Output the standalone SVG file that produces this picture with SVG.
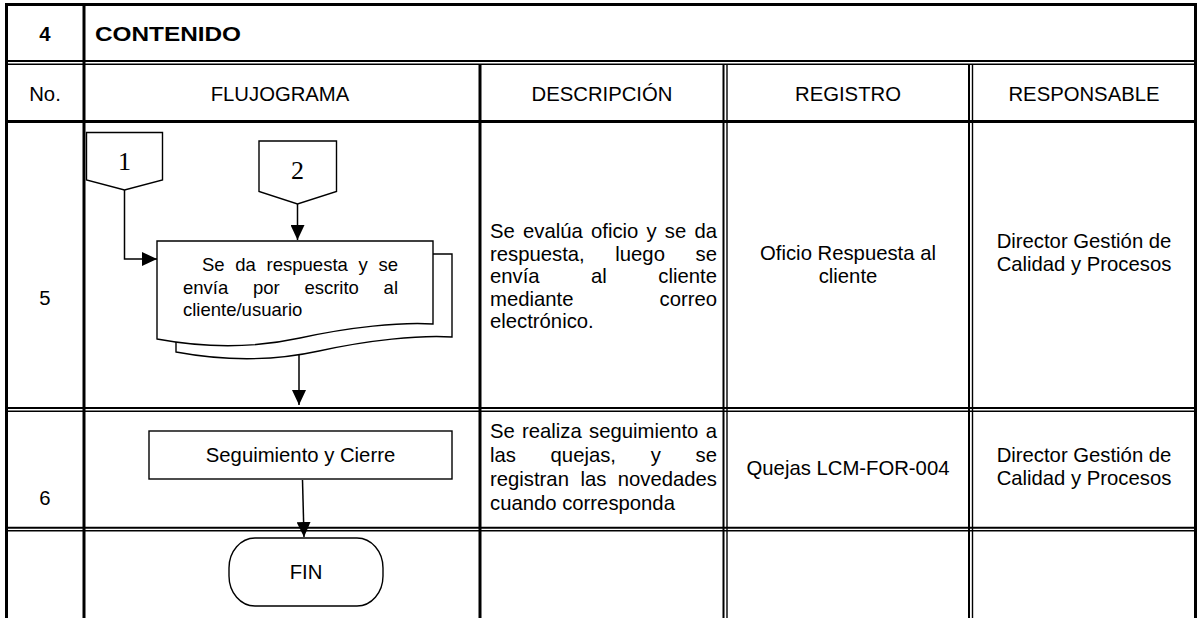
<svg xmlns="http://www.w3.org/2000/svg" width="1198" height="618" viewBox="0 0 1198 618">
<defs>
<style>
.t{font-family:"Liberation Sans",Arial,sans-serif;font-size:20.3px;fill:#000}
.d{font-family:"Liberation Sans",Arial,sans-serif;font-size:18.5px;fill:#000}
.b{font-weight:bold}
.c{text-anchor:middle}
.e{text-anchor:end}
.n{font-family:"Liberation Serif","Times New Roman",serif;font-size:26px;fill:#000;text-anchor:middle}
.g3{stroke:#000;stroke-width:3;fill:none}
.g2{stroke:#000;stroke-width:2;fill:none}
.g1{stroke:#000;stroke-width:1.4;fill:none}
.sh{fill:#fff;stroke:#000;stroke-width:1.4}
.ln{stroke:#000;stroke-width:1.5;fill:none}
</style>
<marker id="ah" viewBox="0 0 15 14" refX="15" refY="7" markerWidth="15" markerHeight="14" markerUnits="userSpaceOnUse" orient="auto">
<path d="M0,0 L15,7 L0,14 z" fill="#000"/>
</marker>
</defs>
<rect width="1198" height="618" fill="#fff"/>
<g id="table">
<line class="g3" x1="5" y1="4.5" x2="1197" y2="4.5"/>
<line class="g3" x1="6.5" y1="3" x2="6.5" y2="618"/>
<line class="g3" x1="1195.5" y1="3" x2="1195.5" y2="618"/>
<line class="g3" x1="84" y1="3" x2="84" y2="618"/>
<line class="g2" x1="6.5" y1="61" x2="1195.5" y2="61"/>
<line class="g1" x1="6.5" y1="64.3" x2="1195.5" y2="64.3"/>
<line class="g3" x1="6.5" y1="121.5" x2="1195.5" y2="121.5"/>
<line class="g3" x1="480" y1="64" x2="480" y2="618"/>
<line class="g2" x1="723.5" y1="64" x2="723.5" y2="618"/>
<line class="g1" x1="727" y1="64" x2="727" y2="618"/>
<line class="g2" x1="969" y1="64" x2="969" y2="618"/>
<line class="g1" x1="972.5" y1="64" x2="972.5" y2="618"/>
<line class="g2" x1="6.5" y1="408" x2="1195.5" y2="408"/>
<line class="g1" x1="6.5" y1="411.3" x2="1195.5" y2="411.3"/>
<line class="g2" x1="6.5" y1="527.7" x2="1195.5" y2="527.7"/>
<line class="g1" x1="6.5" y1="530.7" x2="1195.5" y2="530.7"/>
</g>
<g id="headers">
<text class="t b c" x="45" y="41">4</text>
<text class="t b" x="95" y="41" textLength="146" lengthAdjust="spacingAndGlyphs">CONTENIDO</text>
<text class="t c" x="45" y="101">No.</text>
<text class="t c" x="280" y="101">FLUJOGRAMA</text>
<text class="t c" x="602" y="101">DESCRIPCIÓN</text>
<text class="t c" x="848" y="101">REGISTRO</text>
<text class="t c" x="1084" y="101">RESPONSABLE</text>
</g>
<g id="row5">
<text class="t c" x="45" y="305">5</text>
<text class="t" y="238"><tspan x="490">Se</tspan><tspan x="523">evalúa</tspan><tspan x="591">oficio</tspan><tspan x="646.5">y</tspan><tspan x="664.8">se</tspan></text>
<text class="t e" x="717" y="238">da</text>
<text class="t" y="260.5"><tspan x="490">respuesta,</tspan><tspan x="615.3">luego</tspan></text>
<text class="t e" x="717" y="260.5">se</text>
<text class="t" y="283"><tspan x="490">envía</tspan><tspan x="591.1">al</tspan></text>
<text class="t e" x="717" y="283">cliente</text>
<text class="t" x="490" y="305.5">mediante</text>
<text class="t e" x="717" y="305.5">correo</text>
<text class="t" x="490" y="328">electrónico.</text>
<text class="t c" x="848" y="260">Oficio Respuesta al</text>
<text class="t c" x="848" y="283">cliente</text>
<text class="t c" x="1084" y="248">Director Gestión de</text>
<text class="t c" x="1084" y="271">Calidad y Procesos</text>
</g>
<g id="row6">
<text class="t c" x="45" y="505">6</text>
<text class="t" y="438"><tspan x="490">Se</tspan><tspan x="522">realiza</tspan><tspan x="589">seguimiento</tspan></text>
<text class="t e" x="717" y="438">a</text>
<text class="t" y="462"><tspan x="490">las</tspan><tspan x="550.6">quejas,</tspan><tspan x="650.7">y</tspan></text>
<text class="t e" x="717" y="462">se</text>
<text class="t" y="486"><tspan x="490">registran</tspan><tspan x="580.4">las</tspan></text>
<text class="t e" x="717" y="486">novedades</text>
<text class="t" x="490" y="510">cuando corresponda</text>
<text class="t c" x="848" y="475">Quejas LCM-FOR-004</text>
<text class="t c" x="1084" y="462">Director Gestión de</text>
<text class="t c" x="1084" y="485">Calidad y Procesos</text>
</g>
<g id="connector1">
<path class="sh" d="M86.5,132.5 H162.5 V180 L124.5,190 L86.5,180 Z"/>
<text class="n" x="124.5" y="170">1</text>
</g>
<g id="connector2">
<path class="sh" d="M259,141 H336.5 V191.5 L297.5,204 L259,191.5 Z"/>
<text class="n" x="297.5" y="179">2</text>
</g>
<g id="doc">
<path class="sh" d="M176,254 H452 V337 C419,335 369,340 319,351 C269,362 219,360 176,352 Z"/>
<path class="sh" d="M157,241 H433 V324 C400,322 350,327 300,338 C250,349 200,347 157,339 Z"/>
<text class="d" y="271"><tspan x="202">Se</tspan><tspan x="235.3">da</tspan><tspan x="266.6">respuesta</tspan><tspan x="358.5">y</tspan></text>
<text class="d e" x="398" y="271">se</text>
<text class="d" y="294"><tspan x="183">envía</tspan><tspan x="253">por</tspan><tspan x="304.4">escrito</tspan></text>
<text class="d e" x="398" y="294">al</text>
<text class="d" x="183" y="316">cliente/usuario</text>
</g>
<g id="seguimiento">
<rect class="sh" x="149" y="431" width="303" height="48"/>
<text class="t c" x="300.5" y="462">Seguimiento y Cierre</text>
</g>
<g id="fin">
<rect class="sh" x="229" y="538" width="154" height="68" rx="26" ry="30"/>
<text class="t c" x="306" y="579">FIN</text>
</g>
<g id="connectors">
<path class="ln" d="M124.5,190 V259 H157" marker-end="url(#ah)"/>
<path class="ln" d="M297.5,204 V240" marker-end="url(#ah)"/>
<path class="ln" d="M299,354 V405" marker-end="url(#ah)"/>
<path class="ln" d="M302.5,480 L304,537" marker-end="url(#ah)"/>
</g>
</svg>
